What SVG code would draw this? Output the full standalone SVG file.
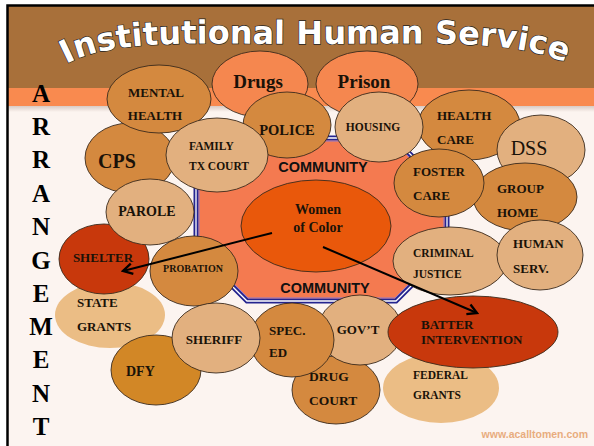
<svg xmlns="http://www.w3.org/2000/svg" width="594" height="446" viewBox="0 0 594 446">
<defs>
<style>
.e{stroke:#3b2a1c;stroke-width:0.9}
.m{fill:#d4893f}
.l{fill:#e2b07f}
.v{fill:#ebbd85}
.r{fill:#c8380c}
.o{fill:#f5874f}
.g{fill:#d28726}
.w{fill:#e9580b}
.t{font-family:"Liberation Serif","Times New Roman",serif;font-weight:bold;fill:#1a1208}
.c{text-anchor:middle}
.s{font-family:"Liberation Sans",Arial,sans-serif;font-weight:bold;fill:#111}
.ttl{font-family:"DejaVu Sans",Verdana,sans-serif;font-weight:bold;font-size:32px;fill:#fff;stroke:#222;stroke-width:1.3px;paint-order:stroke}
.vl{font-family:"Liberation Serif","Times New Roman",serif;font-weight:bold;font-size:25px;fill:#000;text-anchor:middle}
.arr{stroke:#000;stroke-width:2;fill:none}
</style>
<linearGradient id="sh" x1="0" y1="0" x2="0" y2="1">
<stop offset="0" stop-color="#d9cbc4"/>
<stop offset="1" stop-color="#fcf4f0"/>
</linearGradient>
<marker id="ah" markerUnits="userSpaceOnUse" markerWidth="14" markerHeight="14" viewBox="-10 -6 12 12" refX="0" refY="0" orient="auto">
<path d="M -8 -4.5 L 0 0 L -8 4.5" fill="none" stroke="#000" stroke-width="2"/>
</marker>
<path id="arc" d="M 60 68 C 105 38, 190 44, 310 44 C 430 44, 520 38, 572 66"/>
</defs>

<rect x="0" y="0" width="594" height="446" fill="#ffffff"/>
<rect x="7" y="5" width="600" height="450" fill="#fcf4f0"/>
<rect x="7" y="5" width="600" height="83" fill="#a8703a"/>
<rect x="7" y="88" width="600" height="18" fill="#f98a4f"/>
<rect x="7" y="106" width="600" height="6" fill="url(#sh)"/>
<path d="M 7.5 446 L 7.5 5.5 L 594 5.5" fill="none" stroke="#000" stroke-width="2.5"/>

<g id="title">
<text class="ttl"><textPath href="#arc" startOffset="50%" text-anchor="middle">Institutional Human Service</textPath></text>
</g>

<g id="arrangement">
<text class="vl" x="41" y="102">A</text>
<text class="vl" x="41" y="135">R</text>
<text class="vl" x="41" y="168">R</text>
<text class="vl" x="41" y="202">A</text>
<text class="vl" x="41" y="235">N</text>
<text class="vl" x="41" y="269">G</text>
<text class="vl" x="41" y="302">E</text>
<text class="vl" x="41" y="335">M</text>
<text class="vl" x="41" y="368">E</text>
<text class="vl" x="41" y="402">N</text>
<text class="vl" x="41" y="435">T</text>
</g>

<g id="community">
<polygon points="247,138 394,138 447,191 447,250 396,301 247,301 196,250 196,189" fill="#f47a50" stroke="#24248f" stroke-width="5"/>
<polygon points="247,138 394,138 447,191 447,250 396,301 247,301 196,250 196,189" fill="none" stroke="#ffffff" stroke-width="1.3"/>
<polygon points="247,141 393,141 444,192 444,249 395,298 248,298 199,249 199,190" fill="none" stroke="#8a78d0" stroke-width="1"/>
<text class="s c" x="323" y="172" font-size="14.5">COMMUNITY</text>
<text class="s c" x="325" y="293" font-size="14.5">COMMUNITY</text>
</g>

<g id="women">
<ellipse class="e w" cx="316" cy="226" rx="75" ry="46"/>
<text class="t c" x="318" y="214" font-size="14">Women</text>
<text class="t c" x="318" y="232" font-size="14">of Color</text>
</g>

<g id="drugs">
<ellipse class="e o" cx="260" cy="84" rx="48" ry="33"/>
<text class="t c" x="258" y="88" font-size="19">Drugs</text>
</g>
<g id="prison">
<ellipse class="e o" cx="367" cy="84" rx="51" ry="33"/>
<text class="t c" x="364" y="88" font-size="19">Prison</text>
</g>
<g id="cps">
<ellipse class="e m" cx="130" cy="158" rx="45" ry="35"/>
<text class="t c" x="117" y="168" font-size="20">CPS</text>
</g>
<g id="mental-health">
<ellipse class="e m" cx="159" cy="99" rx="52" ry="34"/>
<text class="t c" x="156" y="97" font-size="13">MENTAL</text>
<text class="t c" x="155" y="120" font-size="13">HEALTH</text>
</g>
<g id="police">
<ellipse class="e m" cx="287" cy="125" rx="44" ry="33"/>
<text class="t c" x="287" y="135" font-size="14.5">POLICE</text>
</g>
<g id="family-tx-court">
<ellipse class="e l" cx="217" cy="155" rx="51" ry="37"/>
<text class="t" x="189" y="150" font-size="11.5">FAMILY</text>
<text class="t" x="189" y="170" font-size="11.5">TX COURT</text>
</g>
<g id="health-care">
<ellipse class="e m" cx="469" cy="125" rx="51" ry="35"/>
<text class="t" x="437" y="120" font-size="13">HEALTH</text>
<text class="t" x="437" y="144" font-size="13">CARE</text>
</g>
<g id="housing">
<ellipse class="e l" cx="379" cy="127" rx="44" ry="35"/>
<text class="t c" x="373" y="131" font-size="11.5">HOUSING</text>
</g>
<g id="dss">
<ellipse class="e l" cx="541" cy="150" rx="44" ry="35"/>
<text class="t c" x="529" y="155" font-size="20" style="font-weight:normal">DSS</text>
</g>
<g id="group-home">
<ellipse class="e m" cx="525" cy="197" rx="52" ry="34"/>
<text class="t" x="497" y="193" font-size="13">GROUP</text>
<text class="t" x="497" y="217" font-size="13">HOME</text>
</g>
<g id="foster-care">
<ellipse class="e m" cx="439" cy="183" rx="45" ry="34"/>
<text class="t" x="413" y="176" font-size="13">FOSTER</text>
<text class="t" x="413" y="200" font-size="13">CARE</text>
</g>
<g id="criminal-justice">
<ellipse class="e l" cx="450" cy="261" rx="57" ry="34"/>
<text class="t" x="413" y="257" font-size="11.5">CRIMINAL</text>
<text class="t" x="413" y="278" font-size="11.5">JUSTICE</text>
</g>
<g id="human-serv">
<ellipse class="e l" cx="540" cy="255" rx="43" ry="35"/>
<text class="t" x="513" y="248" font-size="13">HUMAN</text>
<text class="t" x="513" y="273" font-size="13">SERV.</text>
</g>
<g id="state-grants">
<ellipse class="v" cx="110" cy="315" rx="55" ry="33"/>
<text class="t" x="77" y="307" font-size="13">STATE</text>
<text class="t" x="77" y="331" font-size="13">GRANTS</text>
</g>
<g id="shelter">
<ellipse class="e r" cx="104" cy="259" rx="45" ry="35"/>
<text class="t c" x="103" y="262" font-size="13">SHELTER</text>
</g>
<g id="parole">
<ellipse class="e l" cx="150" cy="212" rx="44" ry="33"/>
<text class="t c" x="147" y="216" font-size="14">PAROLE</text>
</g>
<g id="probation">
<ellipse class="e m" cx="194" cy="271" rx="44" ry="35"/>
<text class="t c" x="193" y="272" font-size="10">PROBATION</text>
</g>
<g id="dfy">
<ellipse class="e g" cx="156" cy="370" rx="45" ry="35"/>
<text class="t" x="126" y="376" font-size="14">DFY</text>
</g>
<g id="drug-court">
<ellipse class="e m" cx="336" cy="390" rx="44" ry="34"/>
<text class="t" x="309" y="381" font-size="13.5">DRUG</text>
<text class="t" x="309" y="405" font-size="13.5">COURT</text>
</g>
<g id="govt">
<ellipse class="e l" cx="360" cy="330" rx="42" ry="35"/>
<text class="t c" x="358" y="334" font-size="13">GOV’T</text>
</g>
<g id="spec-ed">
<ellipse class="e m" cx="292" cy="340" rx="42" ry="37"/>
<text class="t" x="269" y="335" font-size="13">SPEC.</text>
<text class="t" x="269" y="357" font-size="13">ED</text>
</g>
<g id="sheriff">
<ellipse class="e l" cx="216" cy="338" rx="44" ry="35"/>
<text class="t c" x="214" y="344" font-size="13">SHERIFF</text>
</g>
<g id="federal-grants">
<ellipse class="v" cx="441" cy="388" rx="58" ry="35"/>
<text class="t" x="413" y="379" font-size="11.5">FEDERAL</text>
<text class="t" x="413" y="399" font-size="11.5">GRANTS</text>
</g>
<g id="batter-intervention">
<ellipse class="e r" cx="473" cy="332" rx="85" ry="36"/>
<text class="t" x="421" y="329" font-size="13">BATTER</text>
<text class="t" x="421" y="344" font-size="13">INTERVENTION</text>
</g>

<g id="connectors">
<line class="arr" x1="272" y1="233" x2="123" y2="271" marker-end="url(#ah)"/>
<line class="arr" x1="323" y1="247" x2="477" y2="313" marker-end="url(#ah)"/>
</g>

<text x="588" y="438" font-family="Liberation Sans,Arial,sans-serif" font-weight="bold" font-size="10.5" fill="#e8ac7e" text-anchor="end">www.acalltomen.com</text>
</svg>
